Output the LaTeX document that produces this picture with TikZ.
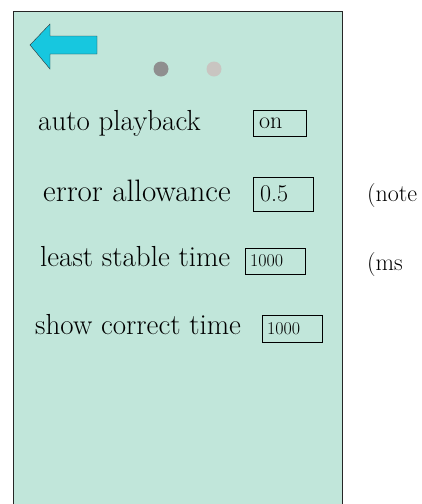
\documentclass[tikz,border=0pt]{standalone}
\definecolor{screen}{HTML}{C1E6DA}
\definecolor{backcyan}{HTML}{17C7DF}
\definecolor{dotdark}{HTML}{8F8F8F}
\definecolor{dotlight}{HTML}{C9C5C1}
\begin{document}
\begin{tikzpicture}[x=1pt, y=-1pt, font=\fontsize{29}{33}\selectfont]
\tikzset{
    lbl/.style={anchor=base west, inner sep=0pt},
    field/.style={draw, thick, inner sep=0pt, align=left, font=\fontsize{24}{26}\selectfont}
}
\useasboundingbox (0,0) rectangle (422,504);
% screen
\fill[screen] (13,11) rectangle (342,504);
\draw[thick, black!85] (13,504)--(13,11)--(342,11)--(342,504);
% back arrow
\draw[fill=backcyan, draw=black!80] (30,45)--(50,24)--(50,36)--(97,36)--(97,54)--(50,54)--(50,69)--cycle;
% page dots
\fill[dotdark] (161,69) circle (7.5);
\fill[dotlight] (214,69) circle (7.5);
% settings
\node[lbl] (auto) at (38,130) {auto playback};
\node[field, minimum width=53pt, minimum height=26pt, text width=41pt] (autobox) at (279.5,123) {on};
\node[lbl, font=\fontsize{31}{35}\selectfont] (error) at (43,201) {error allowance};
\node[field, minimum width=60pt, minimum height=34pt, text width=46pt] (errorbox) at (283,194) {0.5};
\node[lbl, font=\fontsize{24}{28}\selectfont] (note) at (367,201) {(note};
\node[lbl] (stable) at (40,266) {least stable time};
\node[field, minimum width=60pt, minimum height=26pt, text width=50pt, font=\fontsize{18}{20}\selectfont] (stablebox) at (275,261) {1000};
\node[lbl, font=\fontsize{24}{28}\selectfont] (ms) at (367,270) {(ms};
\node[lbl] (correct) at (35,334) {show correct time};
\node[field, minimum width=60pt, minimum height=27pt, text width=50pt, font=\fontsize{18}{20}\selectfont] (correctbox) at (292,328.5) {1000};
\end{tikzpicture}
\end{document}
